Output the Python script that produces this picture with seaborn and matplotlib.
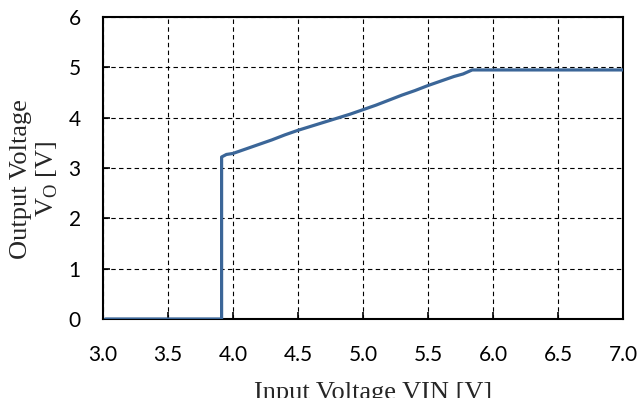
import matplotlib
matplotlib.use("Agg")
import matplotlib.pyplot as plt
import seaborn as sns
import pandas as pd

vin = [3.02, 3.913, 3.913, 3.95, 4.0, 4.1, 4.2, 4.3, 4.4, 4.5, 4.6, 4.7, 4.8, 4.9,
       5.0, 5.1, 5.2, 5.3, 5.4, 5.5, 5.6, 5.7, 5.77, 5.84, 6.0, 6.5, 7.0]
vo = [0.0, 0.0, 3.22, 3.27, 3.29, 3.38, 3.47, 3.56, 3.66, 3.75, 3.83, 3.91, 3.99, 4.07,
      4.16, 4.25, 4.35, 4.45, 4.54, 4.64, 4.73, 4.82, 4.87, 4.95, 4.95, 4.95, 4.95]
xticks = [3.0, 3.5, 4.0, 4.5, 5.0, 5.5, 6.0, 6.5, 7.0]
yticks = [0, 1, 2, 3, 4, 5, 6]

sns.set_style("ticks")
plt.rcParams['font.family'] = ['Lato', 'DejaVu Sans']

df = pd.DataFrame({"VIN": vin, "VO": vo})
fig = plt.figure(figsize=(6.39, 3.98), dpi=100)
ax = fig.add_axes([0.161, 0.1985, 0.814, 0.7585])
sns.lineplot(data=df, x="VIN", y="VO", ax=ax, estimator=None, sort=False,
             color="#3b6698", linewidth=2.3, zorder=3)
ax.set_xlim(3.0, 7.0)
ax.set_ylim(0, 6)
ax.set_xticks(xticks)
ax.set_xticklabels([f"{t:.1f}" for t in xticks])
ax.set_yticks(yticks)
ax.set_yticklabels([str(t) for t in yticks])
ax.tick_params(direction="in", length=5, width=1.2, labelsize=15, colors="black")
ax.tick_params(axis="x", pad=19)
ax.tick_params(axis="y", pad=16)
ax.grid(True, color="black", linestyle=(0, (4, 3)), linewidth=0.8)
for s in ax.spines.values():
    s.set_visible(True)
    s.set_color("black")
    s.set_linewidth(1.5)
ax.set_xlabel("Input Voltage VIN [V]", family="Liberation Serif", fontsize=19)
ax.xaxis.set_label_coords(0.52, -0.208)
ax.set_ylabel("Output Voltage\nV$_\\mathregular{O}$ [V]", family="Liberation Serif",
              fontsize=19, linespacing=1.12, va="center")
ax.yaxis.set_label_coords(-0.130, 0.465)
fig.savefig("out.png", dpi=100)
